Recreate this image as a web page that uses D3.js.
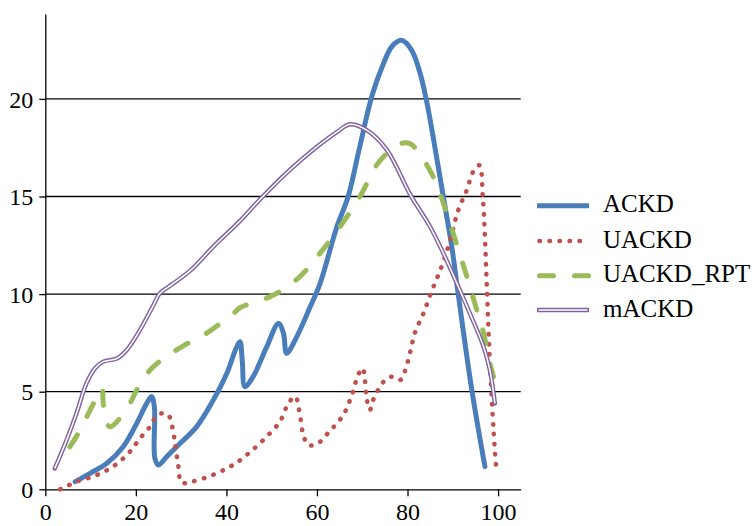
<!DOCTYPE html>
<meta charset="utf-8">
<style>
  body { margin: 0; }
</style>
<body>
  <div id="chart"></div>
  <script src="https://d3js.org/d3.v7.min.js"></script>
  <script>
    // values, [x, y]
    var ackd = [[6.6, 0.39], [9.9, 0.82], [13.6, 1.33], [17.2, 2.18], [20.2, 3.38], [22.4, 4.4], [23.5, 4.75],
      [24.1, 4.2], [24.2, 1.6], [25, 1.24], [26.8, 1.67], [29.8, 2.36], [33.4, 3.2], [37.1, 4.57], [40.1, 5.94],
      [42.1, 7.2], [43, 7.56], [43.5, 6.6], [44.1, 5.26], [45.9, 5.77], [48.9, 7.3], [51.5, 8.5], [52.6, 8.0],
      [53.3, 6.97], [55.5, 7.8], [58.5, 9.35], [60.7, 10.55], [64.4, 13.45], [66.9, 15.0], [69.4, 17.5],
      [72.2, 20.2], [74.5, 21.7], [76.6, 22.7], [78.7, 23.0], [80.9, 22.5], [82.8, 21.3], [84.2, 19.9],
      [85.4, 18.4], [87.9, 15.0], [89.8, 12.4], [91.2, 10.0], [94.2, 5.09], [97.1, 1.16]];

    var uackd = [[3.3, 0], [6.9, 0.39], [11.4, 0.73], [15.4, 1.24], [18.7, 1.93], [20.9, 2.61], [23.1, 3.2],
      [24.2, 3.64], [25.7, 3.89], [27.2, 3.8], [28.3, 2.87], [28.7, 2.27], [29.4, 1.16], [30.1, 0.34],
      [32.3, 0.39], [36.4, 0.68], [40.1, 1.07], [42.6, 1.42], [45.6, 1.98], [48.9, 2.7], [51.8, 3.46],
      [53.7, 4.4], [55.2, 4.75], [56.3, 3.72], [57, 2.78], [58.1, 2.27], [60, 2.32], [62.9, 3.0], [65.8, 3.8],
      [67.7, 4.83], [69.1, 5.86], [70.1, 6.2], [70.6, 5.6], [71, 4.66], [71.7, 4.06], [72.4, 4.57],
      [74.7, 5.51], [76.5, 5.77], [78.4, 5.6], [79.5, 6.1], [80.6, 7.05], [81.7, 8.07], [83.5, 9.0],
      [85, 9.95], [86.8, 10.98], [88.3, 11.9], [89.8, 13.1], [91.2, 14.3], [93.1, 15.33], [94.5, 16.27],
      [95.9, 16.6], [96.6, 15.1], [97.1, 12.94], [97.6, 9.87], [98.2, 6.45], [99, 3.04], [99.6, 0.99]];

    var uackdRpt = [[5.4, 2.18], [7.3, 2.87], [9.9, 4.06], [11.4, 4.74], [12.5, 5.17], [12.8, 4.4], [13.6, 3.38],
      [14.3, 3.2], [15.8, 3.46], [18.7, 4.4], [20.2, 5.09], [23.5, 6.2], [26.8, 6.8], [30.5, 7.35], [35.3, 7.95],
      [41.5, 9.0], [43, 9.3], [50.4, 9.95], [56, 10.85], [60.7, 12.1], [65.1, 13.45], [69.5, 15.0], [73.8, 16.8],
      [78.4, 17.7], [80.6, 17.7], [83.5, 16.9], [85.7, 16.0], [87.4, 15.0], [90.1, 13.1], [92.7, 11.2],
      [94.9, 9.5], [96.8, 8.0], [98.2, 6.45], [99, 5.77]];

    var mackd = [[2.1, 1.07], [4.7, 2.52], [6.9, 3.9], [9.1, 5.43], [11, 6.2], [12.8, 6.54], [15.8, 6.7],
      [18, 7.14], [20.9, 8.16], [23.9, 9.44], [25.3, 10.04], [28, 10.5], [32, 11.2], [37.1, 12.43], [43, 13.75],
      [47.4, 14.85], [54, 16.36], [60, 17.55], [64.4, 18.3], [67.3, 18.7], [71, 18.4], [75.4, 17.4],
      [80.6, 15.1], [85, 13.45], [87.9, 12.1], [90.9, 10.55], [93.8, 9.0], [96.8, 7.3], [98.2, 6.1], [99.3, 4.4]];

    var seriesNames = ["ACKD", "UACKD", "UACKD_RPT", "mACKD"];
    var xTicks = [0, 20, 40, 60, 80, 100];
    var yTicks = [0, 5, 10, 15, 20];

    var width = 753, height = 526;
    var fontList = "Liberation Serif, Times New Roman, serif";

    var x = d3.scaleLinear().domain([0, 105]).range([45.3, 520.7]);
    var y = d3.scaleLinear().domain([0, 24.35]).range([489.3, 14]);

    var svg = d3.select("#chart")
      .append("svg")
      .attr("width", width)
      .attr("height", height)
      .attr("font-family", fontList);

    // gridlines
    svg.append("g")
      .selectAll("line")
      .data(yTicks.slice(1))
      .enter().append("line")
      .attr("x1", x(0))
      .attr("x2", x(105))
      .attr("y1", function(d) { return y(d); })
      .attr("y2", function(d) { return y(d); })
      .style("stroke", "#000")
      .style("stroke-width", 1.3);

    // axes
    var xAxis = svg.append("g")
      .attr("transform", "translate(0," + y(0) + ")")
      .call(d3.axisBottom(x).tickValues(xTicks).tickSizeInner(7).tickSizeOuter(0).tickPadding(7));

    var yAxis = svg.append("g")
      .attr("transform", "translate(" + x(0) + ",0)")
      .call(d3.axisLeft(y).tickValues(yTicks).tickSizeInner(6).tickSizeOuter(0).tickPadding(6));

    [xAxis, yAxis].forEach(function(a) {
      a.attr("font-family", fontList).attr("font-size", 24);
      a.selectAll("path, line").style("stroke", "#000").style("stroke-width", 1.3);
      a.selectAll("text")
        .attr("font-family", fontList)
        .style("font-size", "24px")
        .style("fill", "#000");
    });
    yAxis.selectAll("text").attr("dy", "0.34em");

    var line = d3.line()
      .x(function(d) { return x(d[0]); })
      .y(function(d) { return y(d[1]); })
      .curve(d3.curveCatmullRom.alpha(0.5));

    var styles = [
      { stroke: "#4a7ebb", width: 5, dash: null },
      { stroke: "#c0504d", width: 4.5, dash: "0.5,9.5" },
      { stroke: "#9bbb59", width: 5, dash: "14,21" },
      { stroke: "#8064a2", width: 4.4, dash: null, inner: 1.5 }
    ];
    var allSeries = [ackd, uackd, uackdRpt, mackd];

    allSeries.forEach(function(data, i) {
      var s = styles[i];
      svg.append("path")
        .datum(data)
        .attr("d", line)
        .style("fill", "none")
        .style("stroke", s.stroke)
        .style("stroke-width", s.width)
        .style("stroke-linecap", "round")
        .style("stroke-linejoin", "round")
        .style("stroke-dasharray", s.dash);
      if (s.inner) {
        svg.append("path")
          .datum(data)
          .attr("d", line)
          .style("fill", "none")
          .style("stroke", "#fff")
          .style("stroke-width", s.inner)
          .style("stroke-linejoin", "round");
      }
    });

    // legend
    var legend = svg.append("g");
    var legendY = [205.7, 241, 275.7, 310];

    seriesNames.forEach(function(name, i) {
      var s = styles[i];
      legend.append("line")
        .attr("x1", s.dash ? 539.5 : 537)
        .attr("x2", 589)
        .attr("y1", legendY[i])
        .attr("y2", legendY[i])
        .style("stroke", s.stroke)
        .style("stroke-width", s.width)
        .style("stroke-linecap", s.dash ? "round" : "butt")
        .style("stroke-dasharray", s.dash);
      if (s.inner) {
        legend.append("line")
          .attr("x1", 538.5).attr("x2", 587.5)
          .attr("y1", legendY[i]).attr("y2", legendY[i])
          .style("stroke", "#fff")
          .style("stroke-width", s.inner);
      }
      legend.append("text")
        .attr("x", 603)
        .attr("y", legendY[i] + 6.5)
        .attr("font-family", fontList)
        .attr("font-size", 25)
        .style("fill", "#000")
        .text(name);
    });
  </script>
</body>
